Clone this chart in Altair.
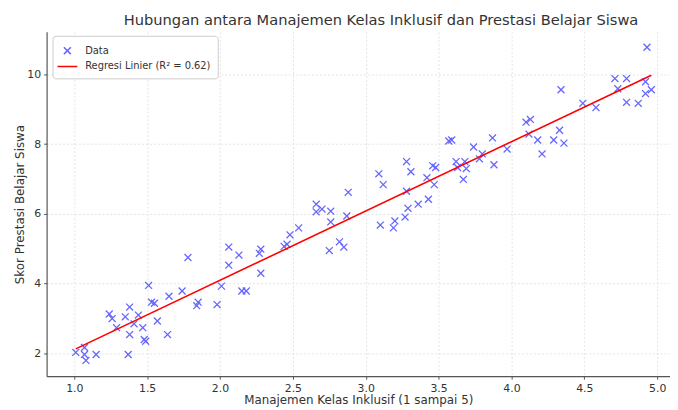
import altair as alt
import pandas as pd

x_vals = [1.01, 1.07, 1.07, 1.08, 1.15, 1.24, 1.26, 1.29, 1.35, 1.38,
          1.37, 1.38, 1.41, 1.44, 1.47, 1.48, 1.49, 1.51, 1.53, 1.55,
          1.57, 1.64, 1.65, 1.74, 1.78, 1.84, 1.85, 1.98, 2.01, 2.06,
          2.06, 2.13, 2.15, 2.18, 2.27, 2.28, 2.28, 2.44, 2.46, 2.48,
          2.54, 2.66, 2.66, 2.70, 2.76, 2.76, 2.75, 2.82, 2.85, 2.87,
          2.88, 3.09, 3.12, 3.10, 3.19, 3.20, 3.27, 3.29, 3.28, 3.28,
          3.31, 3.36, 3.43, 3.42, 3.46, 3.48, 3.47, 3.57, 3.59, 3.62,
          3.63, 3.68, 3.69, 3.67, 3.74, 3.78, 3.80, 3.87, 3.88, 3.97,
          4.10, 4.13, 4.12, 4.18, 4.21, 4.29, 4.33, 4.36, 4.34, 4.49,
          4.58, 4.71, 4.73, 4.79, 4.79, 4.87, 4.92, 4.92, 4.96, 4.93]
y_vals = [2.03, 2.17, 1.97, 1.80, 1.97, 3.13, 3.00, 2.74, 3.05, 3.33,
          1.97, 2.54, 2.85, 3.10, 2.74, 2.40, 2.35, 3.95, 3.47, 3.44,
          2.93, 2.54, 3.64, 3.79, 4.75, 3.37, 3.47, 3.40, 3.93, 4.53,
          5.05, 4.82, 3.79, 3.79, 4.87, 4.99, 4.30, 5.07, 5.13, 5.40,
          5.60, 6.28, 6.06, 6.14, 6.08, 5.77, 4.95, 5.20, 5.05, 5.94,
          6.62, 7.15, 6.84, 5.68, 5.60, 5.80, 5.91, 6.16, 6.65, 7.50,
          7.21, 6.28, 6.42, 7.04, 7.38, 7.33, 6.84, 8.09, 8.12, 7.50,
          7.33, 7.50, 7.30, 6.99, 7.92, 7.58, 7.72, 8.18, 7.41, 7.86,
          8.63, 8.71, 8.29, 8.12, 7.72, 8.12, 8.40, 8.03, 9.56, 9.17,
          9.05, 9.88, 9.59, 9.88, 9.20, 9.17, 9.79, 9.45, 9.56, 10.78]

series_labels = ["Data", "Regresi Linier (R² = 0.62)"]
series_colors = ["#6666ff", "#ff0000"]
x_ticks = [1.0, 1.5, 2.0, 2.5, 3.0, 3.5, 4.0, 4.5, 5.0]
y_ticks = [2, 4, 6, 8, 10]

title_text = "Hubungan antara Manajemen Kelas Inklusif dan Prestasi Belajar Siswa"
x_title = "Manajemen Kelas Inklusif (1 sampai 5)"
y_title = "Skor Prestasi Belajar Siswa"

df = pd.DataFrame({"x": x_vals, "y": y_vals})

X_PATH = "M-0.5,-0.5L0.5,0.5M0.5,-0.5L-0.5,0.5"
LINE_PATH = "M-1.43,0L1.43,0"
FONT = "DejaVu Sans"

xscale = alt.Scale(domain=[0.81, 5.088], nice=False, zero=False)
yscale = alt.Scale(domain=[1.347, 11.22], nice=False, zero=False)

xaxis = alt.Axis(values=x_ticks, format=".1f", title=x_title)
yaxis = alt.Axis(values=y_ticks, format="d", title=y_title)


def make_legend():
    return alt.Legend(
        title=None, orient="none", legendX=6, legendY=4,
        fillColor="white", strokeColor="#cccccc", cornerRadius=3,
        padding=7, rowPadding=1, labelOffset=10, labelFontSize=10,
        labelFont=FONT, labelColor="#333333", symbolSize=196,
        symbolStrokeWidth=1.5,
    )


color = alt.Color(
    "series:N",
    scale=alt.Scale(domain=series_labels, range=series_colors),
    legend=make_legend(),
)
shape = alt.Shape(
    "series:N",
    scale=alt.Scale(domain=series_labels, range=[X_PATH, LINE_PATH]),
    legend=make_legend(),
)

points = alt.Chart(df).transform_calculate(series="'Data'").mark_point(
    filled=False, size=196, strokeWidth=1.3, opacity=1
).encode(
    x=alt.X("x:Q", scale=xscale, axis=xaxis),
    y=alt.Y("y:Q", scale=yscale, axis=yaxis),
    color=color,
    shape=shape,
)

line = alt.Chart(df).transform_regression("x", "y").transform_calculate(
    series="'Regresi Linier (R² = 0.62)'"
).mark_line(strokeWidth=1.6).encode(
    x=alt.X("x:Q", scale=xscale),
    y=alt.Y("y:Q", scale=yscale),
    color=color,
)

chart = alt.layer(points, line).properties(
    width=630,
    height=348,
    autosize=alt.AutoSizeParams(type="none"),
    padding={"left": 39, "top": 22, "right": 0, "bottom": 30},
    title=alt.TitleParams(
        text=title_text, fontSize=14.8, font=FONT, fontWeight="normal",
        color="#333333", anchor="middle", dx=23, offset=-8,
        baseline="alphabetic",
    ),
).configure_view(stroke=None).configure_axis(
    labelFont=FONT, titleFont=FONT, labelFontSize=11, titleFontSize=12,
    labelColor="#333333", titleColor="#333333", titleFontWeight="normal",
    grid=True, gridColor="#dddddd", gridDash=[2, 2], gridWidth=0.8,
    domainColor="#555555", domainWidth=1.2, tickColor="#555555",
    tickSize=3, labelPadding=3,
).configure_axisX(titlePadding=2).configure_axisY(titlePadding=0)

chart.save("out.html", embed_options={"renderer": "svg", "actions": False})
